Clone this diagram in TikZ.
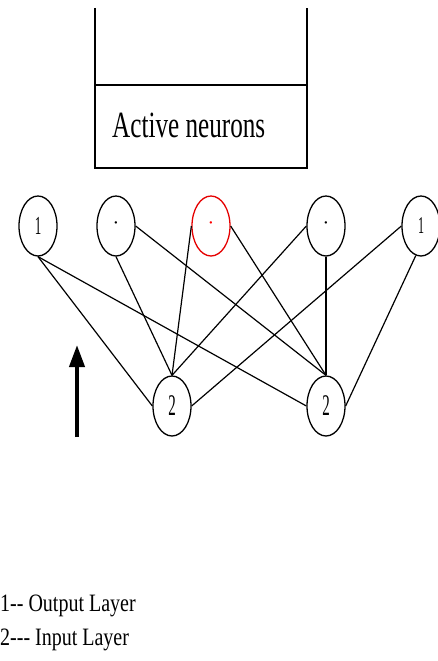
\documentclass[tikz,border=0pt]{standalone}
\usepackage{fontspec}
\setmainfont{Liberation Serif}
\usetikzlibrary{shapes.geometric,arrows.meta}
\tikzset{
  neuron/.style={draw=black, line width=1.3pt, ellipse, minimum width=38pt, minimum height=60pt, inner sep=0pt},
  redneuron/.style={neuron, draw=red!90!black},
  link/.style={draw=black, line width=1.2pt},
  boxline/.style={draw=black, line width=1.5pt},
  uparrow/.style={draw=black, line width=4pt, -{Triangle[length=22pt,width=15pt]}},
  legend/.style={inner sep=0pt, anchor=base west},
}
\newcommand{\squeeze}[2]{\scalebox{#1}[1]{#2}}
\begin{document}
\begin{tikzpicture}[x=1pt,y=-1pt]
\useasboundingbox (0,0) rectangle (438,661);
% box
\coordinate (bTL) at (95,8);
\coordinate (bTR) at (307,8);
\coordinate (bBL) at (95,168);
\coordinate (bBR) at (307,168);
\coordinate (bML) at (95,85);
\coordinate (bMR) at (307,85);
\draw[boxline] (bTL) -- (bBL) -- (bBR) -- (bTR);
\draw[boxline] (bML) -- (bMR);
\node[legend] (active) at (112,137) {\squeeze{0.68}{\fontsize{37}{37}\selectfont Active neurons}};
% top layer
\node[neuron] (n1) at (38,226) {\squeeze{0.5}{\fontsize{26}{26}\selectfont 1}};
\node[neuron] (n2) at (116,226) {\fontsize{20}{20}\selectfont ·};
\node[redneuron] (n3) at (211,226) {\color{red}\fontsize{20}{20}\selectfont ·};
\node[neuron] (n4) at (326,226) {\fontsize{20}{20}\selectfont ·};
\node[neuron] (n5) at (421,226) {\squeeze{0.5}{\fontsize{24}{24}\selectfont 1}};
% bottom layer
\node[neuron] (a) at (172,406) {\squeeze{0.5}{\fontsize{30}{30}\selectfont 2}};
\node[neuron] (b) at (326,406) {\squeeze{0.5}{\fontsize{30}{30}\selectfont 2}};
% links
\draw[link] (n1.south) -- (a.west);
\draw[link] (n1.south) -- (b.west);
\draw[link] (n2.south) -- (a.north);
\draw[link] (n2.east) -- (b.north);
\draw[link] (n3.west) -- (a.north);
\draw[link] (n3.east) -- (b.north);
\draw[link] (n4.west) -- (a.north);
\draw[link] (n4.south) -- (b.north);
\draw[link] (n5.west) -- (a.east);
\draw[link] (n5.-100) -- (b.east);
% arrow
\coordinate (arrS) at (77,437);
\coordinate (arrE) at (77,345);
\draw[uparrow] (arrS) -- (arrE);
% legend
\node[legend] (l1) at (0,611) {\squeeze{0.8}{\fontsize{25}{25}\selectfont 1-{}- Output Layer}};
\node[legend] (l2) at (0,645) {\squeeze{0.8}{\fontsize{25}{25}\selectfont 2-{}-{}- Input Layer}};
\end{tikzpicture}
\end{document}
